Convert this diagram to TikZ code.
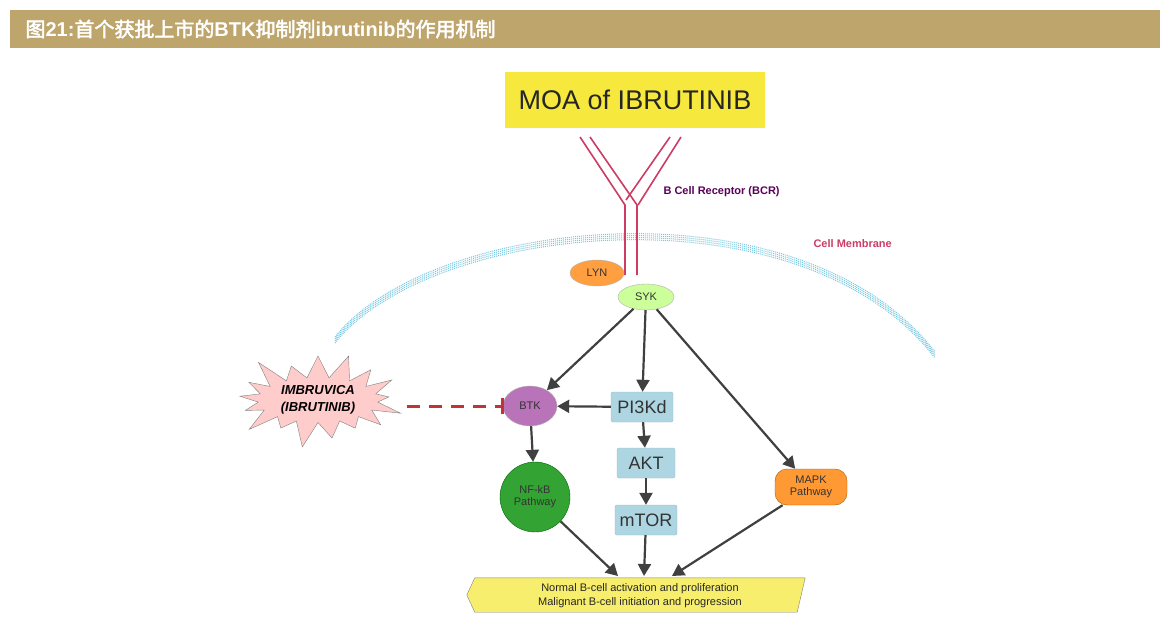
\documentclass[tikz,border=0pt]{standalone}
\usepackage{fontspec}
\setmainfont{Liberation Sans}
\newfontfamily\cjk{Noto Sans CJK SC}[AutoFakeBold=2.5]
\usetikzlibrary{shapes.geometric,shapes.symbols,arrows.meta}
\definecolor{tan}{RGB}{189,165,108}
\definecolor{moay}{RGB}{246,232,60}
\definecolor{rec}{RGB}{205,60,100}
\definecolor{mem}{RGB}{120,200,225}
\definecolor{boxb}{RGB}{173,214,226}
\begin{document}
\begin{tikzpicture}[x=1pt,y=-1pt,
  arr/.style={draw=black!75,line width=2.2pt,-{Triangle[length=12pt,width=13pt]}},
  pbox/.style={draw=boxb!70!gray,fill=boxb,rounded corners=2pt,minimum height=30pt,font=\fontsize{18}{18}\selectfont,text=black!80},
  ell/.style={ellipse,draw=gray!60,inner sep=0pt,font=\fontsize{11}{11}\selectfont,text=black!80}]
\useasboundingbox (0,0) rectangle (1168,634);
\fill[white] (0,0) rectangle (1168,634);
\node[fill=tan,minimum width=1150pt,minimum height=38pt,anchor=north west,inner sep=0pt] (bar) at (10,10) {};
\node[anchor=west,text=white,font=\fontsize{20}{20}\selectfont] (title) at (22,29) {{\cjk\bfseries 图}\textbf{21:}{\cjk\bfseries 首个获批上市的}\textbf{BTK}{\cjk\bfseries 抑制剂}\textbf{ibrutinib}{\cjk\bfseries 的作用机制}};
\node[fill=moay,minimum width=260pt,minimum height=56pt,font=\fontsize{27}{27}\selectfont,text=black!85] (moa) at (635,100) {MOA of IBRUTINIB};
% membrane
\foreach \d in {-3,-1,1,3}
 \draw[mem,line width=1pt,dash pattern=on 1pt off 1pt] (335,340+\d) .. controls (430,220+\d) and (800,180+\d) .. (935,355+\d);
% receptor
\draw[rec,line width=1.6pt] (580,137) -- (625,205) -- (625,275);
\draw[rec,line width=1.6pt] (590,137) -- (637,205) -- (637,275);
\draw[rec,line width=1.6pt] (670,137) -- (626,200);
\draw[rec,line width=1.6pt] (681,137) -- (638,205);
\node[anchor=west,text=violet!70!black,font=\bfseries\fontsize{11}{11}\selectfont] (bcr) at (660,192) {B Cell Receptor (BCR)};
\node[anchor=west,text=rec,font=\bfseries\fontsize{11}{11}\selectfont] (cm) at (810,244) {Cell Membrane};
\node[ell,fill=orange!75,minimum width=54pt,minimum height=26pt] (lyn) at (597,273) {LYN};
\node[ell,fill=green!50!yellow!40,minimum width=56pt,minimum height=26pt] (syk) at (646,297) {SYK};
\node[ell,fill=violet!55,minimum width=54pt,minimum height=40pt] (btk) at (530,406) {BTK};
\node[pbox,minimum width=62pt] (pi3) at (642,407) {PI3Kd};
\node[pbox,minimum width=58pt] (akt) at (646,463) {AKT};
\node[pbox,minimum width=62pt] (mtor) at (646,520) {mTOR};
\node[circle,draw=green!40!black,fill=green!55!black!80,minimum size=70pt,inner sep=0pt,align=center,font=\fontsize{11}{12}\selectfont,text=black!80] (nfkb) at (535,497) {NF-kB\\Pathway};
\node[draw=orange!70!black,fill=orange!80,rounded corners=12pt,minimum width=72pt,minimum height=36pt,inner sep=0pt,align=center,font=\fontsize{11}{12}\selectfont,text=black!80] (mapk) at (811,487) {MAPK\\Pathway};
\node[starburst,starburst points=17,starburst point height=30pt,draw=gray,fill=pink!80,minimum width=180pt,minimum height=105pt,inner sep=0pt,align=center,font=\bfseries\itshape\fontsize{13}{17}\selectfont] (star) at (318,400) {IMBRUVICA\\(IBRUTINIB)};
\node[minimum width=330pt,minimum height=34pt,inner sep=0pt] (out) at (640,595) {};
\draw[gray,fill=moay!75] (out.north west) -- (out.north east) -- ([xshift=-8pt]out.south east) -- (out.south west) -- ([xshift=-8pt]out.west) -- cycle;
\node[align=center,font=\fontsize{11}{14}\selectfont,text=black!85] (outt) at (640,596) {Normal B-cell activation and proliferation\\Malignant B-cell initiation and progression};
\coordinate (o1) at (618,576);
\coordinate (o2) at (644,576);
\coordinate (o3) at (672,576);
\coordinate (inh) at (407,406);
\draw[arr] (syk) -- (btk);
\draw[arr] (syk) -- (pi3);
\draw[arr] (syk) -- (mapk);
\draw[arr] (pi3) -- (btk);
\draw[arr] (pi3) -- (akt);
\draw[arr] (akt) -- (mtor);
\draw[arr] (btk) -- (nfkb);
\draw[arr] (nfkb) -- (o1);
\draw[arr] (mtor) -- (o2);
\draw[arr] (mapk) -- (o3);
\draw[red!70!black!80,line width=3pt,dash pattern=on 13pt off 9pt] (inh) -- (btk.west);
\draw[red!70!black!80,line width=3pt] ([yshift=-8pt]btk.west) -- ([yshift=8pt]btk.west);
\end{tikzpicture}
\end{document}
